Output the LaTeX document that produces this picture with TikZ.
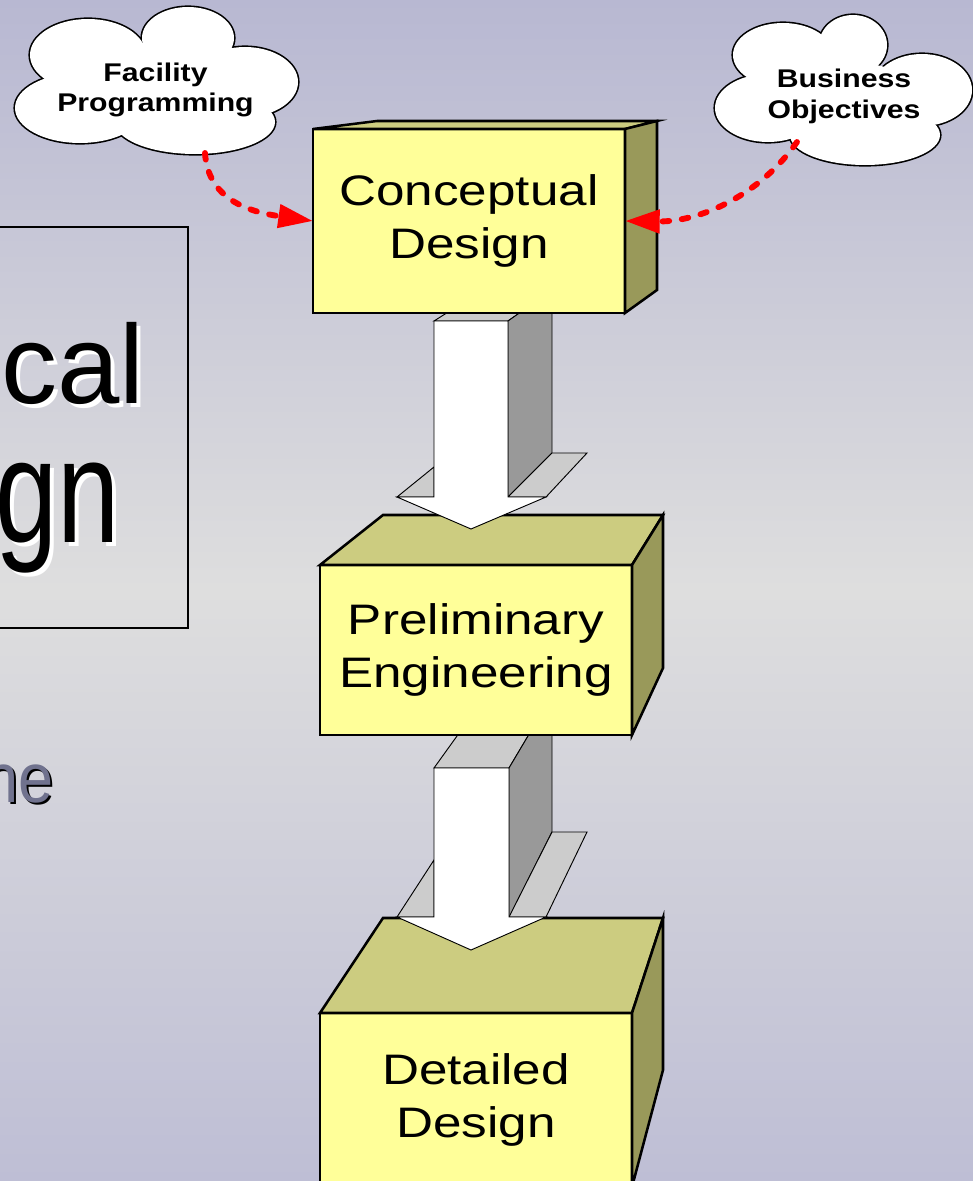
\documentclass[tikz,border=0pt]{standalone}
\usepackage{fontspec}
\setmainfont{Liberation Sans}
\newfontfamily\boxfont{Liberation Sans}[FakeStretch=1.2]
\newfontfamily\cloudfont{Liberation Sans}[FakeStretch=1.18]
\usetikzlibrary{arrows.meta}

\definecolor{bgtop}{RGB}{184,184,210}
\definecolor{bgmid}{RGB}{222,222,222}
\definecolor{bgbot}{RGB}{190,190,213}
\definecolor{facefront}{RGB}{255,255,153}
\definecolor{facetop}{RGB}{204,204,128}
\definecolor{faceside}{RGB}{153,153,90}
\definecolor{arrowlight}{RGB}{204,204,204}
\definecolor{arrowdark}{RGB}{153,153,153}
\definecolor{slate}{RGB}{112,114,142}

% stacking order of the drawing
\pgfdeclarelayer{bg}
\pgfdeclarelayer{boxthree}
\pgfdeclarelayer{arrowtwo}
\pgfdeclarelayer{boxtwo}
\pgfdeclarelayer{arrowone}
\pgfsetlayers{bg,boxthree,arrowtwo,boxtwo,arrowone,main}

\begin{document}
\begin{tikzpicture}[x=0.75pt,y=-0.75pt,
  frontface/.style={draw=black, line width=1.9pt, fill=facefront, inner sep=0pt,
    outer sep=0pt, minimum width=234pt, align=center,
    font=\boxfont\fontsize{32}{39.75}\selectfont},
  facepoly/.style={draw=black, line width=1.9pt, line join=miter},
  toppoly/.style={facepoly, fill=facetop},
  sidepoly/.style={facepoly, fill=faceside},
  blockline/.style={draw=black, line width=0.7pt, line join=miter},
  shaftfront/.style={blockline, fill=white},
  shaftlight/.style={blockline, fill=arrowlight},
  shaftdark/.style={blockline, fill=arrowdark},
  cloudline/.style={draw=black, line width=2.4pt},
  cloudtext/.style={inner sep=0pt, align=center,
    font=\cloudfont\bfseries\fontsize{19.2}{22.5}\selectfont},
  redlink/.style={draw=red, line width=4.4pt, line cap=round,
    dash pattern=on 5pt off 9.5pt, -{Triangle[length=26pt,width=17pt]}},
  bigtext/.style={inner sep=0pt, font=\fontsize{84}{84}\selectfont},
]
\useasboundingbox (0,0) rectangle (973,1181);

% backdrop
\begin{pgfonlayer}{bg}
  \shade[top color=bgtop, bottom color=bgbot, middle color=bgmid]
    (0,0) rectangle (973,1181);
\end{pgfonlayer}

% title frame on the left
\draw[line width=1.1pt] (-10,227) rectangle (188,628);
\node[bigtext, anchor=base east, text=white] at (148.7,407) {cal};
\node[bigtext, anchor=base east] (ttla) at (144.7,403) {cal};
\node[bigtext, anchor=base east, text=white] at (124.4,546) {\scalebox{1}[1.32]{gn}};
\node[bigtext, anchor=base east] (ttlb) at (120.4,542) {\scalebox{1}[1.32]{gn}};
\node[inner sep=0pt, anchor=base west, text=black, font=\fontsize{52.5}{52.5}\selectfont]
  at (-14.5,804) {\scalebox{0.9}[1]{ne}};
\node[inner sep=0pt, anchor=base west, text=slate, font=\fontsize{52.5}{52.5}\selectfont]
  (sub) at (-16.5,802) {\scalebox{0.9}[1]{ne}};

% cloud: Facility Programming
\foreach \cx/\cy/\rx/\ry in {80/108/65/35, 88/55/58/36, 188/38/46/31,
    245/82/53/35, 195/122/80/32}
  \draw[cloudline] (\cx,\cy) ellipse [x radius=\rx, y radius=\ry];
\foreach \cx/\cy/\rx/\ry in {80/108/65/35, 88/55/58/36, 188/38/46/31,
    245/82/53/35, 195/122/80/32, 155/88/90/42}
  \fill[white] (\cx,\cy) ellipse [x radius=\rx, y radius=\ry];
\node[cloudtext] (fp) at (155.5,90) {Facility\\Programming};
\coordinate (fpout) at (205,153);

% cloud: Business Objectives
\foreach \cx/\cy/\rx/\ry in {768/108/53/34, 783/55/50/32, 853/45/34/30,
    922/90/50/36, 865/135/75/30}
  \draw[cloudline] (\cx,\cy) ellipse [x radius=\rx, y radius=\ry];
\foreach \cx/\cy/\rx/\ry in {768/108/53/34, 783/55/50/32, 853/45/34/30,
    922/90/50/36, 865/135/75/30, 845/100/80/38}
  \fill[white] (\cx,\cy) ellipse [x radius=\rx, y radius=\ry];
\node[cloudtext, font=\cloudfont\bfseries\fontsize{19.2}{23.25}\selectfont]
  (bo) at (844,96) {Business\\Objectives};
\coordinate (boout) at (797,142);

% block: Detailed Design
\begin{pgfonlayer}{boxthree}
  \node[frontface, minimum height=130.5pt] (dd) at (476,1100) {Detailed\\Design};
  \path[toppoly] (dd.north west) -- ++(63,-95) -- ++(280,0) -- (dd.north east) -- cycle;
  \path[sidepoly] (dd.north east) -- ++(31,-95) -- ++(0,152) -- (dd.south east) -- cycle;
\end{pgfonlayer}

% block: Preliminary Engineering
\begin{pgfonlayer}{boxtwo}
  \node[frontface, minimum height=127.5pt] (pe) at (476,650) {Preliminary\\Engineering};
  \path[toppoly] (pe.north west) -- ++(63,-50) -- ++(280,0) -- (pe.north east) -- cycle;
  \path[sidepoly] (pe.north east) -- ++(31,-50) -- ++(0,153) -- (pe.south east) -- cycle;
\end{pgfonlayer}

% block: Conceptual Design
\node[frontface, minimum height=138pt] (cd) at (469,221) {Conceptual\\Design};
\path[toppoly] (cd.north west) -- ++(64,-8) -- ++(280,0) -- (cd.north east) -- cycle;
\path[sidepoly] (cd.north east) -- ++(32,-8) -- ++(0,169) -- (cd.south east) -- cycle;

% 3-D arrow from Conceptual Design to Preliminary Engineering
\begin{pgfonlayer}{arrowone}
  \path[shaftlight] (434,321) -- (483,290) -- (552,290) -- (508,321) -- cycle;
  \path[shaftdark] (508,321) -- (552,290) -- (552,453) -- (508,497) -- cycle;
  \path[shaftlight] (397,497) -- (434,467) -- (434,497) -- cycle;
  \path[shaftlight] (508,497) -- (552,453) -- (587,453) -- (546,497) -- cycle;
  \path[shaftfront] (397,497) -- (434,497) -- (434,321) -- (508,321) -- (508,497)
    -- (546,497) -- (471,529) coordinate (tipone) -- cycle;
\end{pgfonlayer}

% 3-D arrow from Preliminary Engineering to Detailed Design
\begin{pgfonlayer}{arrowtwo}
  \path[shaftlight] (434,768) -- (468.5,720) -- (537.5,720) -- (509,768) -- cycle;
  \path[shaftdark] (509,768) -- (537.5,720) -- (552,720) -- (552,832) -- (509,918) -- cycle;
  \path[shaftlight] (397,917) -- (434,860) -- (434,917) -- cycle;
  \path[shaftlight] (509,917) -- (552,832) -- (587,832) -- (546,917) -- cycle;
  \path[shaftfront] (397,917) -- (434,917) -- (434,768) -- (509,768) -- (509,917)
    -- (546,917) -- (471,950) coordinate (tiptwo) -- cycle;
\end{pgfonlayer}

% dashed inputs into Conceptual Design
\draw[redlink] (fpout) .. controls (208,200) and (250,212) .. (cd.west);
\draw[redlink] (boout) .. controls (760,195) and (700,222) .. (cd.east);
\end{tikzpicture}
\end{document}
